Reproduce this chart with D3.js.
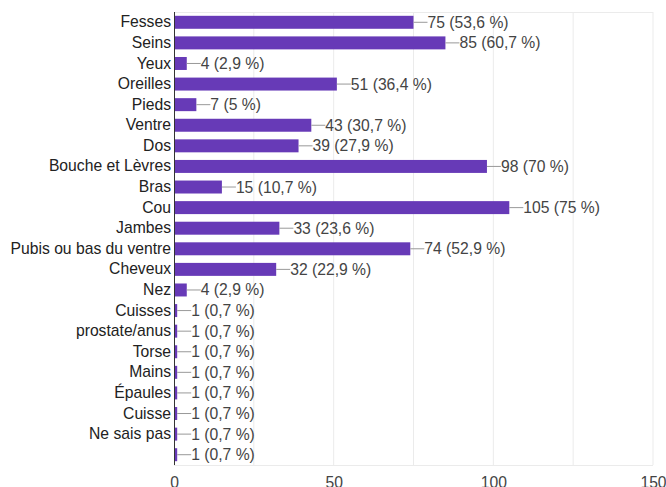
<!DOCTYPE html>
<html>
<head>
<meta charset="utf-8">
<script src="https://cdn.jsdelivr.net/npm/d3@7"></script>
<style>
    body { margin: 0; background: #fff; }
    svg { display: block; font-family: Arial, "Liberation Sans", sans-serif; }
</style>
</head>
<body>
<svg id="chart"></svg>
<script>
// Answers
const categories = [
    'Fesses', 'Seins', 'Yeux', 'Oreilles', 'Pieds', 'Ventre', 'Dos',
    'Bouche et Lèvres', 'Bras', 'Cou', 'Jambes', 'Pubis ou bas du ventre',
    'Cheveux', 'Nez', 'Cuisses', 'prostate/anus', 'Torse', 'Mains',
    'Épaules', 'Cuisse', 'Ne sais pas', ''
];
const counts = [75, 85, 4, 51, 7, 43, 39, 98, 15, 105, 33, 74, 32, 4, 1, 1, 1, 1, 1, 1, 1, 1];
const percents = [
    '53,6', '60,7', '2,9', '36,4', '5', '30,7', '27,9', '70', '10,7', '75',
    '23,6', '52,9', '22,9', '2,9', '0,7', '0,7', '0,7', '0,7', '0,7', '0,7', '0,7', '0,7'
];
const xTicks = [0, 50, 100, 150];
const xGrid = [25, 50, 75, 100, 125, 150];

const width = 666;
const height = 487;
const margin = { top: 12, right: 13, bottom: 22, left: 174 };
const FONT = 15.7;

const rows = categories.map((c, i) => ({ i, label: c, value: counts[i], pct: percents[i] }));

const svg = d3.select('#chart')
    .attr('width', width)
    .attr('height', height);

const x = d3.scaleLinear()
    .domain([0, 150])
    .range([margin.left, width - margin.right]);

const y = d3.scaleBand()
    .domain(rows.map(d => d.i))
    .range([margin.top, height - margin.bottom])
    .paddingInner(0.37)
    .paddingOuter(0.185);

// gridlines
svg.append('g').selectAll('line')
    .data(xGrid)
    .join('line')
    .attr('x1', d => x(d)).attr('x2', d => x(d))
    .attr('y1', margin.top).attr('y2', height - margin.bottom)
    .attr('stroke', '#ebebeb')
    .attr('stroke-width', 1);

// top and bottom frame
svg.append('g').selectAll('line')
    .data([margin.top, height - margin.bottom])
    .join('line')
    .attr('x1', x(0)).attr('x2', x(150))
    .attr('y1', d => d + 0.5).attr('y2', d => d + 0.5)
    .attr('stroke', '#ebebeb');

// bars
svg.append('g').selectAll('rect')
    .data(rows)
    .join('rect')
    .attr('x', x(0))
    .attr('y', d => y(d.i))
    .attr('width', d => x(d.value) - x(0))
    .attr('height', y.bandwidth())
    .attr('fill', '#673ab7');

// leader lines
svg.append('g').selectAll('line')
    .data(rows)
    .join('line')
    .attr('x1', d => x(d.value))
    .attr('x2', d => x(d.value) + 14)
    .attr('y1', d => y(d.i) + y.bandwidth() / 2)
    .attr('y2', d => y(d.i) + y.bandwidth() / 2)
    .attr('stroke', '#999')
    .attr('stroke-width', 1);

// value labels
svg.append('g').selectAll('text')
    .data(rows)
    .join('text')
    .attr('x', d => x(d.value) + 14)
    .attr('y', d => y(d.i) + y.bandwidth() / 2)
    .attr('dy', '0.35em')
    .attr('font-size', FONT)
    .attr('fill', '#444')
    .text(d => `${d.value} (${d.pct} %)`);

// category axis
const yAxis = d3.axisLeft(y)
    .tickSize(0)
    .tickPadding(3)
    .tickFormat(i => categories[i]);

const ya = svg.append('g')
    .attr('transform', `translate(${margin.left},0)`)
    .call(yAxis);
ya.select('.domain').remove();
ya.selectAll('text')
    .attr('font-size', FONT)
    .attr('font-family', 'Arial, "Liberation Sans", sans-serif')
    .attr('fill', '#222');

// baseline
svg.append('line')
    .attr('x1', x(0) + 0.5).attr('x2', x(0) + 0.5)
    .attr('y1', margin.top).attr('y2', height - margin.bottom)
    .attr('stroke', '#333')
    .attr('stroke-width', 1);

// value axis
const xAxis = d3.axisBottom(x)
    .tickValues(xTicks)
    .tickSize(0)
    .tickPadding(12);

const xa = svg.append('g')
    .attr('transform', `translate(0,${height - margin.bottom})`)
    .call(xAxis);
xa.select('.domain').remove();
xa.selectAll('text')
    .attr('font-size', FONT)
    .attr('font-family', 'Arial, "Liberation Sans", sans-serif')
    .attr('fill', '#444');
</script>
</body>
</html>
